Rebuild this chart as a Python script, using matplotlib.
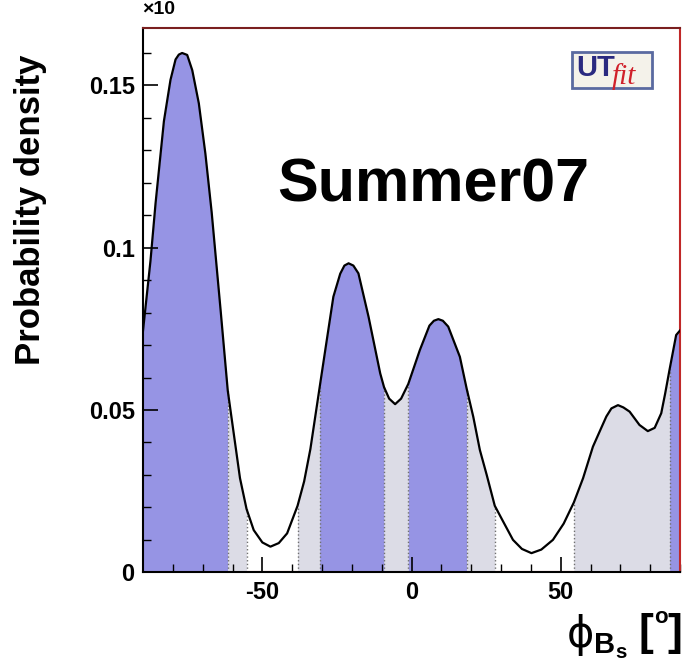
import matplotlib
matplotlib.use('Agg')
import matplotlib.pyplot as plt
import numpy as np
from matplotlib.patches import Rectangle

# curve (phi_Bs in degrees, probability density)
phi = [-90, -87.5, -85.8, -83.0, -80.8, -79.1, -78.0, -76.9, -75.2, -73.5, -71.3,
       -69.1, -67.0, -64.0, -61.6, -59.6, -57.5, -55.3, -52.9, -50.0, -47.3,
       -44.5, -41.7, -38.2, -36.0, -33.9, -30.8, -28.4, -26.2, -23.9, -22.5, -21.1,
       -19.5, -17.8, -14.4, -10.5, -9.2, -7.5, -5.5, -3.5, -1.1, 2.8, 6.0, 7.5, 9.0, 10.5, 12.3,
       16.2, 18.5, 20.7, 22.9, 25.2, 27.9, 30.5, 34.0, 37.0, 40.2,
       43.5, 47.4, 51.0, 54.4, 57.5, 60.8, 63.6, 65.3, 67.0, 69.2,
       71.0, 73.1, 76.4, 79.2, 81.5, 83.7, 85.0, 86.5, 88.7, 90]
dens = [0.0745, 0.096, 0.1137, 0.139, 0.1517, 0.158, 0.1595, 0.160, 0.1594, 0.1547, 0.1445,
        0.129, 0.111, 0.0808, 0.056, 0.0428, 0.029, 0.0195, 0.0130, 0.0092, 0.0079,
        0.0090, 0.0120, 0.0205, 0.028, 0.038, 0.057, 0.0716, 0.0849, 0.092, 0.0945, 0.0952,
        0.0945, 0.0921, 0.0787, 0.0613, 0.057, 0.0535, 0.0518, 0.0535, 0.058, 0.0685, 0.076, 0.0775, 0.078, 0.0775, 0.0757,
        0.0664, 0.0565, 0.0479, 0.0377, 0.0300, 0.0205, 0.016, 0.0100, 0.0072, 0.0059,
        0.0070, 0.0100, 0.0150, 0.0215, 0.029, 0.0387, 0.0445, 0.048, 0.0505, 0.0515,
        0.0508, 0.0495, 0.0454, 0.0435, 0.0445, 0.049, 0.055, 0.0625, 0.0731, 0.0745]

# interval edges and which probability region each piece belongs to
bounds = [-90, -61.6, -55.3, -38.2, -30.8, -9.2, -1.1, 18.5, 27.9, 54.4, 86.5, 90]
region = ['68', '95', 'out', '95', '68', '95', '68', '95', 'out', '95', '68']
colors = {'68': '#9694e4', '95': '#dcdce6'}

plt.rcParams['font.family'] = ['Liberation Sans', 'DejaVu Sans']
plt.rcParams['font.weight'] = 'bold'
plt.rcParams['mathtext.fontset'] = 'custom'
plt.rcParams['mathtext.rm'] = 'DejaVu Sans:normal'
plt.rcParams['mathtext.bf'] = 'Liberation Sans:bold'

fig = plt.figure(figsize=(6.86, 6.71), dpi=100)
ax = fig.add_axes([0.2085, 0.1471, 0.7828, 0.8107])

x = np.array(phi)
y = np.array(dens)

ax.axhline(0, color='#e04040', lw=1.5, zorder=0.5)
for a, b, r in zip(bounds[:-1], bounds[1:], region):
    if r == 'out':
        continue
    m = (x >= a - 1e-9) & (x <= b + 1e-9)
    ax.fill_between(x[m], 0, y[m], color=colors[r], lw=0, zorder=1)

for bx in bounds[1:-1]:
    top = y[np.isclose(x, bx)][0]
    ax.vlines(bx, 0, top, colors='#707070', linestyles=':', lw=1.0, zorder=2)

ax.plot(x, y, color='black', lw=1.6, zorder=3)

ax.set_xlim(-90, 90)
ax.set_ylim(0, 0.1676)
ax.set_xticks([-50, 0, 50])
ax.set_xticklabels(['-50', '0', '50'], fontsize=17, fontweight='bold')
ax.set_xticks(np.arange(-80, 91, 10), minor=True)
ax.set_yticks([0, 0.05, 0.1, 0.15])
ax.set_yticklabels(['0', '0.05', '0.1', '0.15'], fontsize=17, fontweight='bold')
ax.set_yticks(np.arange(0, 0.165, 0.01), minor=True)
ax.tick_params(which='major', direction='in', length=11, width=1.2, pad=6,
               top=False, right=False)
ax.tick_params(which='minor', direction='in', length=5.5, width=1.0,
               top=False, right=False)

for s in ['left', 'bottom']:
    ax.spines[s].set_color('black')
    ax.spines[s].set_linewidth(1.5)
ax.spines['top'].set_color('#7a1f1f')
ax.spines['right'].set_color('#c02828')
ax.spines['top'].set_linewidth(1.5)
ax.spines['right'].set_linewidth(1.5)

ax.text(7.2, 0.119, 'Summer07', fontsize=44, fontweight='bold',
        ha='center', va='center', zorder=5)

# UTfit logo box
ax.add_patch(Rectangle((0.798, 0.89), 0.149, 0.067, transform=ax.transAxes,
                       facecolor='#f4f2ea', edgecolor='#5a6aa0', lw=2, zorder=5))
ax.text(0.806, 0.927, 'UT', transform=ax.transAxes, fontsize=21,
        fontweight='bold', color='#2a2a80', ha='left', va='center', zorder=6)
ax.text(0.873, 0.912, 'fit', transform=ax.transAxes, fontsize=21,
        family='Liberation Serif', style='italic', fontweight='normal',
        color='#d0202a', ha='left', va='center', zorder=6)

fig.text(0.044, 0.687, 'Probability density', rotation=90, fontsize=25,
         fontweight='bold', ha='center', va='center')
# x-axis title: phi_{B_s} [o]
fig.text(0.915, 0.015, r'$\mathrm{ϕ}_{\mathbf{B_s}}$', fontsize=30,
         ha='right', va='bottom')
fig.text(0.931, 0.025, '[', fontsize=32, fontweight='bold', ha='left', va='bottom')
fig.text(0.963, 0.064, 'o', fontsize=16, fontweight='bold', ha='center', va='bottom')
fig.text(0.994, 0.025, ']', fontsize=32, fontweight='bold', ha='right', va='bottom')
fig.text(0.207, 0.999, '×10', fontsize=14, fontweight='bold',
         ha='left', va='top')

fig.savefig('out.png', dpi=100)
